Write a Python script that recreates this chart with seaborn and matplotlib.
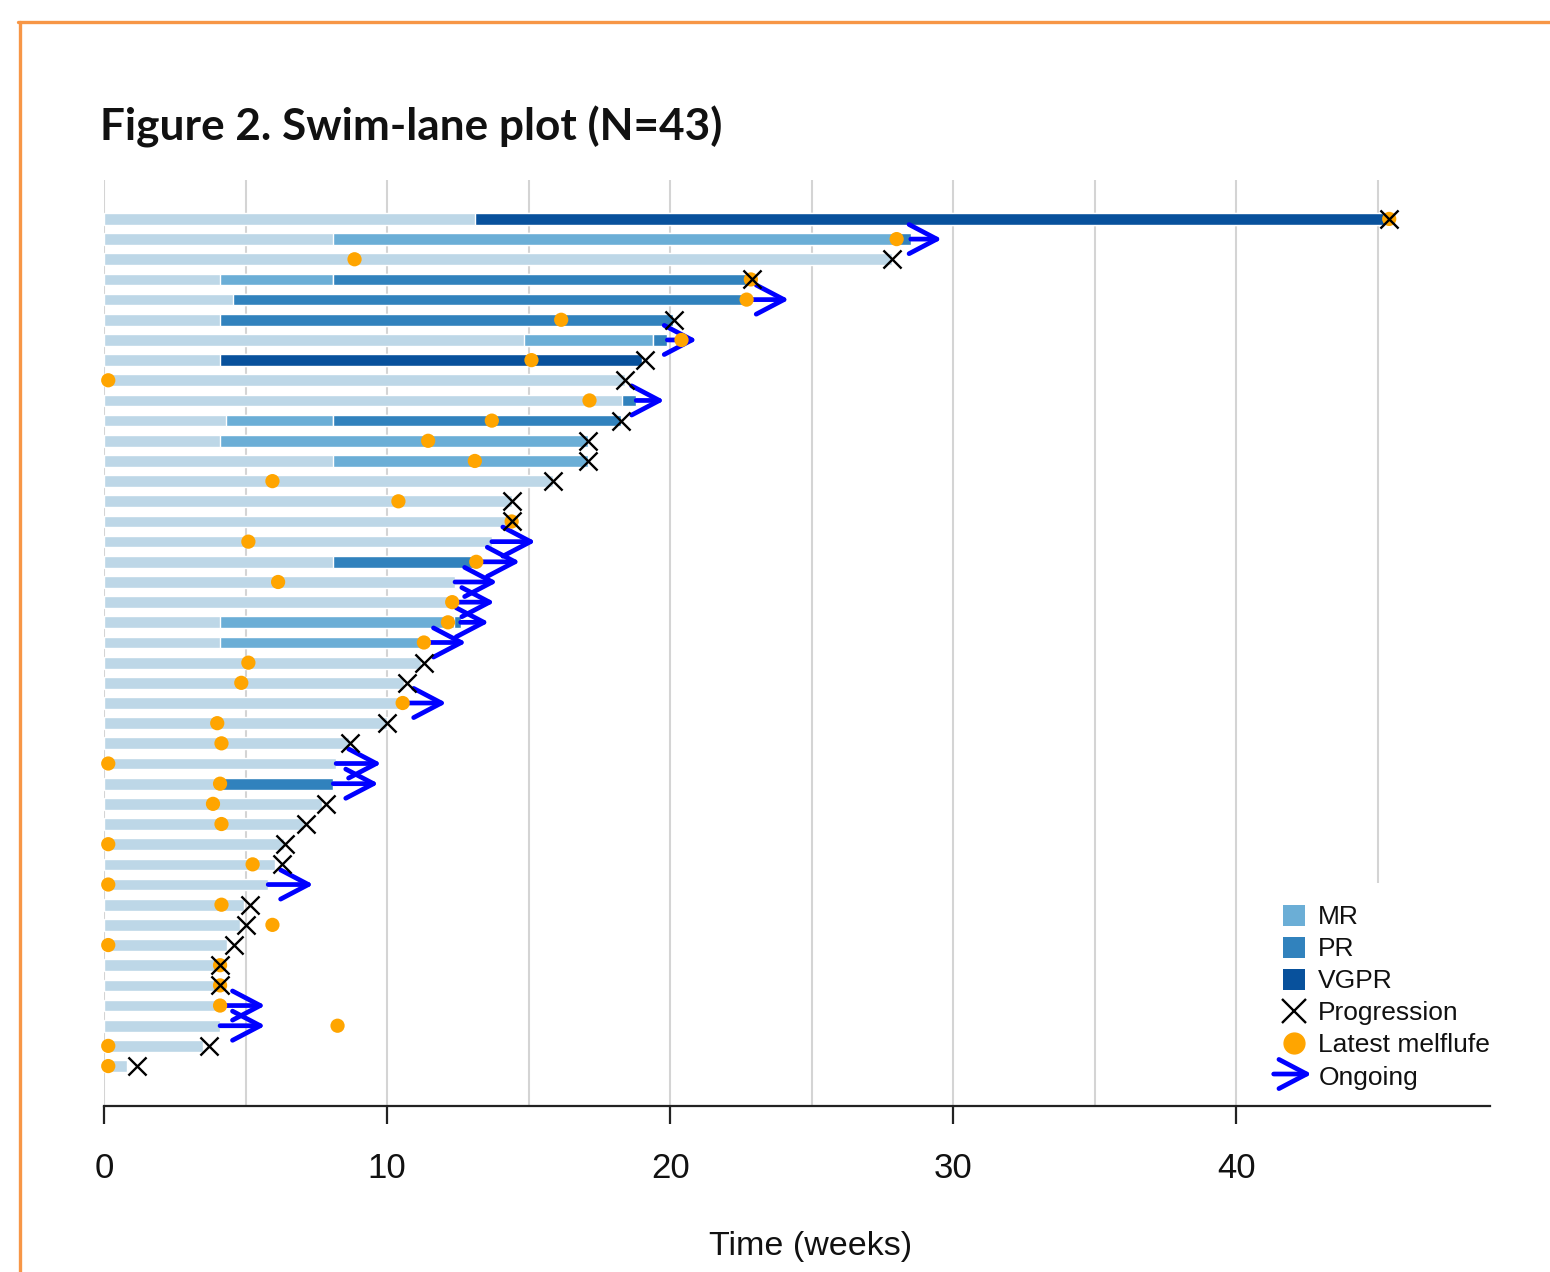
import matplotlib
matplotlib.use("Agg")
import matplotlib.pyplot as plt
import numpy as np
import pandas as pd
import seaborn as sns
from matplotlib.legend_handler import HandlerBase
from matplotlib.lines import Line2D
from matplotlib.patches import FancyArrowPatch, Patch

nan = np.nan

# one entry per patient, top to bottom (weeks)
bar_end = [45.4, 28.5, 27.85, 22.85, 22.7, 20.1, 19.9, 19.0, 18.4, 18.8,
           18.25, 17.1, 17.1, 15.85, 14.4, 14.4, 13.7, 13.15, 12.4, 12.3,
           12.6, 11.3, 11.2, 10.6, 10.55, 10.0, 8.65, 8.2, 8.1, 7.7,
           7.05, 6.35, 6.05, 5.8, 4.95, 4.8, 4.35, 4.1, 4.1, 4.1,
           4.1, 3.5, 0.8]
mr_start = [nan, 8.1, nan, 4.1, nan, nan, 14.85, nan, nan, nan,
            4.3, 4.1, 8.1, nan, nan, nan, nan, nan, nan, nan,
            4.1, 4.1, nan, nan, nan, nan, nan, nan, nan, nan,
            nan, nan, nan, nan, nan, nan, nan, nan, nan, nan,
            nan, nan, nan]
mr_end = [nan, 28.1, nan, 8.1, nan, nan, 19.4, nan, nan, nan,
          8.1, 17.1, 17.1, nan, nan, nan, nan, nan, nan, nan,
          12.35, 11.3, nan, nan, nan, nan, nan, nan, nan, nan,
          nan, nan, nan, nan, nan, nan, nan, nan, nan, nan,
          nan, nan, nan]
pr_start = [nan, 28.1, nan, 8.1, 4.55, 4.1, 19.4, nan, nan, 18.3,
            8.1, nan, nan, nan, nan, nan, nan, 8.1, nan, nan,
            12.35, nan, nan, nan, nan, nan, nan, nan, 4.1, nan,
            nan, nan, nan, nan, nan, nan, nan, nan, nan, nan,
            nan, nan, nan]
pr_end = [nan, 28.5, nan, 22.85, 22.7, 20.1, 19.9, nan, nan, 18.8,
          18.25, nan, nan, nan, nan, nan, nan, 13.15, nan, nan,
          12.6, nan, nan, nan, nan, nan, nan, nan, 8.1, nan,
          nan, nan, nan, nan, nan, nan, nan, nan, nan, nan,
          nan, nan, nan]
vgpr_start = [13.1, nan, nan, nan, nan, nan, nan, 4.1, nan, nan] + [nan] * 33
vgpr_end = [45.4, nan, nan, nan, nan, nan, nan, 19.0, nan, nan] + [nan] * 33
progression = [45.4, nan, 27.85, 22.9, nan, 20.15, nan, 19.1, 18.4, nan,
               18.25, 17.1, 17.1, 15.85, 14.4, 14.4, nan, nan, nan, nan,
               nan, nan, 11.3, 10.7, nan, 10.0, 8.7, nan, nan, 7.85,
               7.15, 6.4, 6.3, nan, 5.15, 5.0, 4.6, 4.1, 4.1, nan,
               nan, 3.7, 1.15]
latest_dose = [45.4, 28.0, 8.85, 22.85, 22.7, 16.15, 20.4, 15.1, 0.15, 17.15,
               13.7, 11.45, 13.1, 5.95, 10.4, 14.4, 5.1, 13.15, 6.15, 12.3,
               12.15, 11.3, 5.1, 4.85, 10.55, 4.0, 4.15, 0.15, 4.1, 3.85,
               4.15, 0.15, 5.25, 0.15, 4.15, 5.95, 0.15, 4.1, 4.1, 4.1,
               8.25, 0.15, 0.15]
ongoing_tip = [nan, 29.6, nan, nan, 24.2, nan, 20.95, nan, nan, 19.8,
               nan, nan, nan, nan, nan, nan, 15.25, 14.7, 13.9, 13.8,
               13.6, 12.8, nan, nan, 12.1, nan, nan, 9.8, 9.7, nan,
               nan, nan, nan, 7.4, nan, nan, nan, nan, nan, 5.7,
               5.7, nan, nan]

x_ticks = [0, 10, 20, 30, 40]
legend_labels = ["MR", "PR", "VGPR", "Progression", "Latest melflufen dose", "Ongoing"]

BASE = "#bdd7e7"
MR_C = "#6baed6"
PR_C = "#3182bd"
VGPR_C = "#08519c"
DOSE_C = "#ffa500"
ARROW_C = "#0000ff"
ARROW_STYLE = "->,head_length=2.0,head_width=1.05"

df = pd.DataFrame({
    "row": np.arange(len(bar_end)),
    "end": bar_end,
    "mr_s": mr_start, "mr_e": mr_end,
    "pr_s": pr_start, "pr_e": pr_end,
    "vg_s": vgpr_start, "vg_e": vgpr_end,
    "prog": progression, "dose": latest_dose, "tip": ongoing_tip,
})


class ArrowHandler(HandlerBase):
    def create_artists(self, legend, orig_handle, xdescent, ydescent, width, height, fontsize, trans):
        arr = FancyArrowPatch((-xdescent - 0.4 * width, height / 2), (width + 0.3 * width, height / 2),
                              arrowstyle=ARROW_STYLE, mutation_scale=10, lw=3.4, color=ARROW_C,
                              shrinkA=0, shrinkB=0, transform=trans)
        return [arr]


sns.set_theme(style="white")
plt.rcParams["font.family"] = ["Liberation Sans", "DejaVu Sans"]

fig = plt.figure(figsize=(15.5, 12.72), dpi=100)
ax = fig.add_axes([104 / 1550, 1 - 1106 / 1272, (1490 - 104) / 1550, (1106 - 180) / 1272])

bh = 0.58
ax.barh(df["row"], df["end"], left=0, height=bh, color=BASE, zorder=2)
for s, e, c in [("mr_s", "mr_e", MR_C), ("pr_s", "pr_e", PR_C), ("vg_s", "vg_e", VGPR_C)]:
    seg = df.dropna(subset=[s])
    ax.barh(seg["row"], seg[e] - seg[s], left=seg[s], height=bh, color=c, zorder=3)

for _, r in df.dropna(subset=["tip"]).iterrows():
    ax.add_patch(FancyArrowPatch((r["end"], r["row"]), (r["tip"], r["row"]), arrowstyle=ARROW_STYLE,
                                 mutation_scale=10, lw=3.4, color=ARROW_C, shrinkA=0, shrinkB=0,
                                 zorder=4, clip_on=False))

sns.scatterplot(data=df, x="dose", y="row", color=DOSE_C, s=105, edgecolor="none",
                zorder=5, ax=ax, clip_on=False, legend=False)
sns.scatterplot(data=df.dropna(subset=["prog"]), x="prog", y="row", marker="x", color="black",
                s=170, linewidth=1.7, zorder=6, ax=ax, clip_on=False, legend=False)

ax.set_xlim(0, 48.96)
ax.set_ylim(43.98, -1.93)
ax.set_xticks(x_ticks)
ax.set_xticks(np.arange(5, 50, 10), minor=True)
ax.set_yticks([])
ax.grid(True, which="both", axis="x", color="#d4d4d4", lw=1.5, zorder=0)
ax.set_axisbelow(True)
for side in ["top", "right", "left"]:
    ax.spines[side].set_visible(False)
ax.spines["bottom"].set_color("#222222")
ax.spines["bottom"].set_linewidth(1.6)
ax.spines["bottom"].set_zorder(2.6)
ax.tick_params(axis="x", which="major", bottom=True, length=13, width=1.6, color="#222222",
               pad=20, labelsize=25, labelcolor="#111111")
ax.tick_params(axis="x", which="minor", bottom=False, length=0)
ax.set_xlabel("")
ax.set_ylabel("")

handles = [
    Patch(facecolor=MR_C, edgecolor="none"),
    Patch(facecolor=PR_C, edgecolor="none"),
    Patch(facecolor=VGPR_C, edgecolor="none"),
    Line2D([], [], marker="x", color="black", ls="none", markersize=17, mew=1.7),
    Line2D([], [], marker="o", color=DOSE_C, ls="none", markersize=15),
    Patch(facecolor="none", edgecolor="none"),
]
leg = ax.legend(handles, legend_labels, loc="upper left", bbox_to_anchor=(1261 / 1550, 1 - 883 / 1272),
                bbox_transform=fig.transFigure, fontsize=19, frameon=True, facecolor="white",
                edgecolor="none", framealpha=1, handlelength=0.85, handleheight=0.85,
                handletextpad=0.5, labelspacing=0.28, borderpad=0.82, borderaxespad=0,
                handler_map={handles[5]: ArrowHandler()})
leg.set_zorder(2.5)
for t in leg.get_texts():
    t.set_color("#111111")
    t.set_clip_box(ax.bbox)
    t.set_clip_on(True)

fig.text(100 / 1550, 1 - 140 / 1272, "Figure 2. Swim-lane plot (N=43)", fontsize=31.8,
         fontweight="bold", family=["Lato", "DejaVu Sans"], color="#111111", va="baseline", ha="left")
fig.text(811 / 1550, 1 - 1246 / 1272, "Time (weeks)", fontsize=24.5, color="#111111",
         ha="center", va="center")

frame_c = "#f79646"
fig.add_artist(Line2D([18 / 1550, 1], [1 - 21.5 / 1272] * 2, transform=fig.transFigure,
                      color=frame_c, lw=2.4))
fig.add_artist(Line2D([19.5 / 1550] * 2, [1 - 21.5 / 1272, 0], transform=fig.transFigure,
                      color=frame_c, lw=2.4))

fig.savefig("out.png", dpi=100)
